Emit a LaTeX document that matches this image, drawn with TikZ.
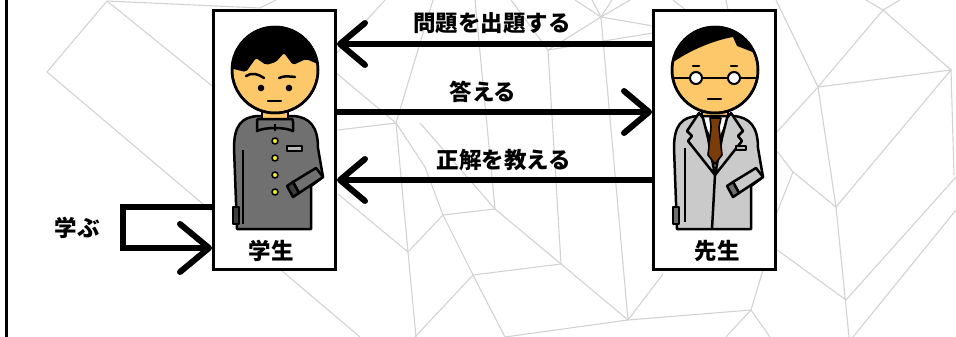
\documentclass[tikz,border=0pt]{standalone}
\usepackage{fontspec}
\newfontfamily\jpfont{Noto Sans CJK JP}
\usetikzlibrary{arrows.meta}
\definecolor{skin}{RGB}{252,200,106}
\definecolor{jacketGray}{RGB}{112,112,112}
\definecolor{coatGray}{RGB}{202,202,202}
\definecolor{tieBrown}{RGB}{122,60,8}
\definecolor{buttonYellow}{RGB}{250,240,20}
\definecolor{meshGray}{RGB}{210,210,210}
\tikzset{roleBox/.style={rectangle,draw,fill=white,line width=3pt,minimum width=122pt,minimum height=258pt},
		Darrow/.style={-{Straight Barb[length=25pt,width=42pt,round]},line width=6pt},
		DarrowLoop/.style={-{Straight Barb[length=29pt,width=48pt,round]},line width=6pt,line join=miter},
		actLabel/.style={font=\jpfont\bfseries\fontsize{22.5}{25}\selectfont,inner sep=0pt},
		meshEdge/.style={draw=meshGray,line width=1.1pt},
		figLine/.style={draw=black,line width=2.5pt,line join=round},
		thinLine/.style={draw=black,line width=1.6pt,line join=round}}

\begin{document}
\begin{tikzpicture}[x=1pt,y=-1pt]
\useasboundingbox (0,0) rectangle (956,337);

% background mesh
\draw[meshEdge] (107,1) -- (47,72) -- (360,337);
\draw[meshEdge] (107,1) -- (260,8) -- (280,-2);
\draw[meshEdge] (107,1) -- (232,102);
\draw[meshEdge] (335,72) -- (396,123) -- (408,252) -- (416,337);
\draw[meshEdge] (338,130) -- (396,123);
\draw[meshEdge] (433,0) -- (396,123) -- (425,167) -- (443,215) -- (473,275) -- (505,337);
\draw[meshEdge] (385,0) -- (335,55);
\draw[meshEdge] (338,194) -- (408,252) -- (443,215) -- (495,209);
\draw[meshEdge] (475,0) -- (495,209) -- (561,264) -- (628,320);
\draw[meshEdge] (420,123) -- (495,209);
\draw[meshEdge] (473,275) -- (561,264);
\draw[meshEdge] (473,275) -- (415,337);
\draw[meshEdge] (511,0) -- (548,50) -- (561,264);
\draw[meshEdge] (548,50) -- (601,17) -- (628,320);
\draw[meshEdge] (548,50) -- (653,33);
\foreach \tx in {575,592,612,630}
	\draw[meshEdge] (601,17) -- (\tx,0);
\draw[meshEdge] (601,17) -- (653,26);
\draw[meshEdge] (505,337) -- (628,320) -- (751,310);
\draw[meshEdge] (628,320) -- (663,274);
\draw[meshEdge] (673,0) -- (686,10);
\draw[meshEdge] (726,0) -- (728,10);
\draw[meshEdge] (776,0) -- (818,87) -- (883,10);
\draw[meshEdge] (866,0) -- (883,10) -- (900,0);
\draw[meshEdge] (883,10) -- (951,70) -- (818,87) -- (776,133);
\draw[meshEdge] (818,87) -- (836,207) -- (951,70) -- (954,175);
\draw[meshEdge] (776,150) -- (793,172) -- (836,207) -- (849,337);
\draw[meshEdge] (793,172) -- (776,215);
\draw[meshEdge] (776,249) -- (846,300) -- (956,177);
\draw[meshEdge] (853,337) -- (956,210);
\draw[meshEdge] (763,270) -- (751,310) -- (726,337);
\draw[meshEdge] (751,310) -- (770,337);
\draw[line width=3pt] (6,0) -- (6,337);

% role boxes
\node[roleBox] (student) at (274.5,140) {};
\node[roleBox] (teacher) at (714.5,140) {};
\node[actLabel] (studentLbl) at (271,251) {学生};
\node[actLabel] (teacherLbl) at (717,251) {先生};

% student
\filldraw[figLine,fill=jacketGray] (237,229) -- (234,148) .. controls (234,125) and (242,117) .. (258,116) -- (293,116)
	.. controls (310,117) and (318,127) .. (318,148) -- (323,177) -- (311,186) -- (311,229) -- cycle;
\draw[figLine] (243,150) -- (243,224);
\filldraw[figLine,fill=jacketGray!55!black] (233,207) rectangle (239,224);
\filldraw[figLine,fill=jacketGray] (323,177) -- (316,168) -- (293,182) -- (299,193) -- cycle;
\filldraw[figLine,fill=jacketGray!55!black] (293,182) -- (287,186) -- (293,197) -- (299,193) -- cycle;
\foreach \by in {141,158,175,192}
	\filldraw[thinLine,fill=buttonYellow] (275,\by) circle[radius=3];
\filldraw[thinLine,fill=gray!55] (287,146) rectangle (302,151);
\filldraw[figLine,fill=skin] (262,104) rectangle (288,120);
\filldraw[figLine,fill=jacketGray] (257,131) -- (257,122) .. controls (257,119) .. (261,119) -- (289,119)
	.. controls (293,119) .. (293,122) -- (293,131) .. controls (285,127) and (265,127) .. cycle;
\draw[thinLine] (275,124) -- (275,131);
\filldraw[figLine,fill=skin] (275,70) circle[radius=43];
\begin{scope}
	\clip (275,70) circle[radius=43];
	\fill[rounded corners=2pt] (225,15) -- (225,67) -- (246,72) -- (256,58) -- (266,65) -- (276,62) -- (284,53)
		-- (293,65) -- (306,59) -- (325,67) -- (325,15) -- cycle;
\end{scope}
\draw[figLine] (275,70) circle[radius=43];
\draw[figLine,line cap=round] (246,76) .. controls (252,72) and (258,74) .. (264,78);
\draw[figLine,line cap=round] (279,78) .. controls (285,76) .. (295,77);
\fill (261,88) circle[radius=3.3];
\fill (289,88) circle[radius=3.3];
\draw[figLine,line cap=round] (268,101) -- (281,101);

% teacher
\begin{scope}[xshift=440pt]
\filldraw[figLine,fill=coatGray] (237,229) -- (234,148) .. controls (234,125) and (242,117) .. (258,116) -- (293,116)
	.. controls (310,117) and (318,127) .. (318,148) -- (323,177) -- (311,186) -- (311,229) -- cycle;
\draw[figLine] (245,148) -- (245,222);
\filldraw[figLine,fill=coatGray!55!black] (233,207) rectangle (239,224);
\filldraw[figLine,fill=coatGray] (323,177) -- (316,168) -- (293,182) -- (299,193) -- cycle;
\filldraw[figLine,fill=coatGray!55!black] (293,182) -- (287,186) -- (293,197) -- (299,193) -- cycle;
\filldraw[figLine,fill=skin] (262,104) rectangle (288,118);
\filldraw[figLine,fill=white] (260,116) -- (290,116) -- (275,150) -- cycle;
\filldraw[figLine,fill=coatGray] (259,113) -- (247,131) -- (252,136) -- (248,141) -- (275,175) -- (268,138) -- (263,118) -- cycle;
\filldraw[figLine,fill=coatGray] (291,113) -- (303,131) -- (298,136) -- (302,141) -- (275,175) -- (282,138) -- (287,118) -- cycle;
\filldraw[thinLine,fill=tieBrown] (270,118) -- (281,118) -- (279,127) -- (282,155) -- (275,164) -- (268,155) -- (271,127) -- cycle;
\draw[figLine] (275,175) -- (272,229);
\filldraw[thinLine,fill=gray!55] (296,146) rectangle (306,150);
\filldraw[figLine,fill=skin] (275,70) circle[radius=43];
\begin{scope}
	\clip (275,70) circle[radius=43];
	\fill (225,15) -- (225,66) -- (232,63) .. controls (250,50) and (275,40) .. (293,37) -- (297,46)
		.. controls (305,49) .. (325,57) -- (325,15) -- cycle;
\end{scope}
\draw[figLine] (275,70) circle[radius=43];
\draw[line width=2pt] (233,78) -- (317,78);
\filldraw[line width=2pt,fill=white] (256,78) circle[radius=6];
\filldraw[line width=2pt,fill=white] (294,78) circle[radius=6];
\draw[figLine,line cap=round] (253,66) -- (259,66);
\draw[figLine,line cap=round] (291,66) -- (297,66);
\draw[figLine,line cap=round] (268,99) -- (281,99);
\end{scope}

% exchanges between the two
\draw[Darrow] ([yshift=96pt]teacher.west) -- ([yshift=96pt]student.east);
\draw[Darrow] ([yshift=28pt]student.east) -- ([yshift=28pt]teacher.west);
\draw[Darrow] ([yshift=-40pt]teacher.west) -- ([yshift=-40pt]student.east);
\node[actLabel] (askLbl) at (492,23) {問題を出題する};
\node[actLabel] (answerLbl) at (483,92) {答える};
\node[actLabel] (solveLbl) at (504,160) {正解を教える};

% self study loop
\draw[DarrowLoop] ([yshift=-67pt]student.west) -- ++(-89,0) -- ++(0,41) -- ([yshift=-108pt]student.west);
\node[actLabel] (learnLbl) at (77,228) {学ぶ};
\end{tikzpicture}
\end{document}
